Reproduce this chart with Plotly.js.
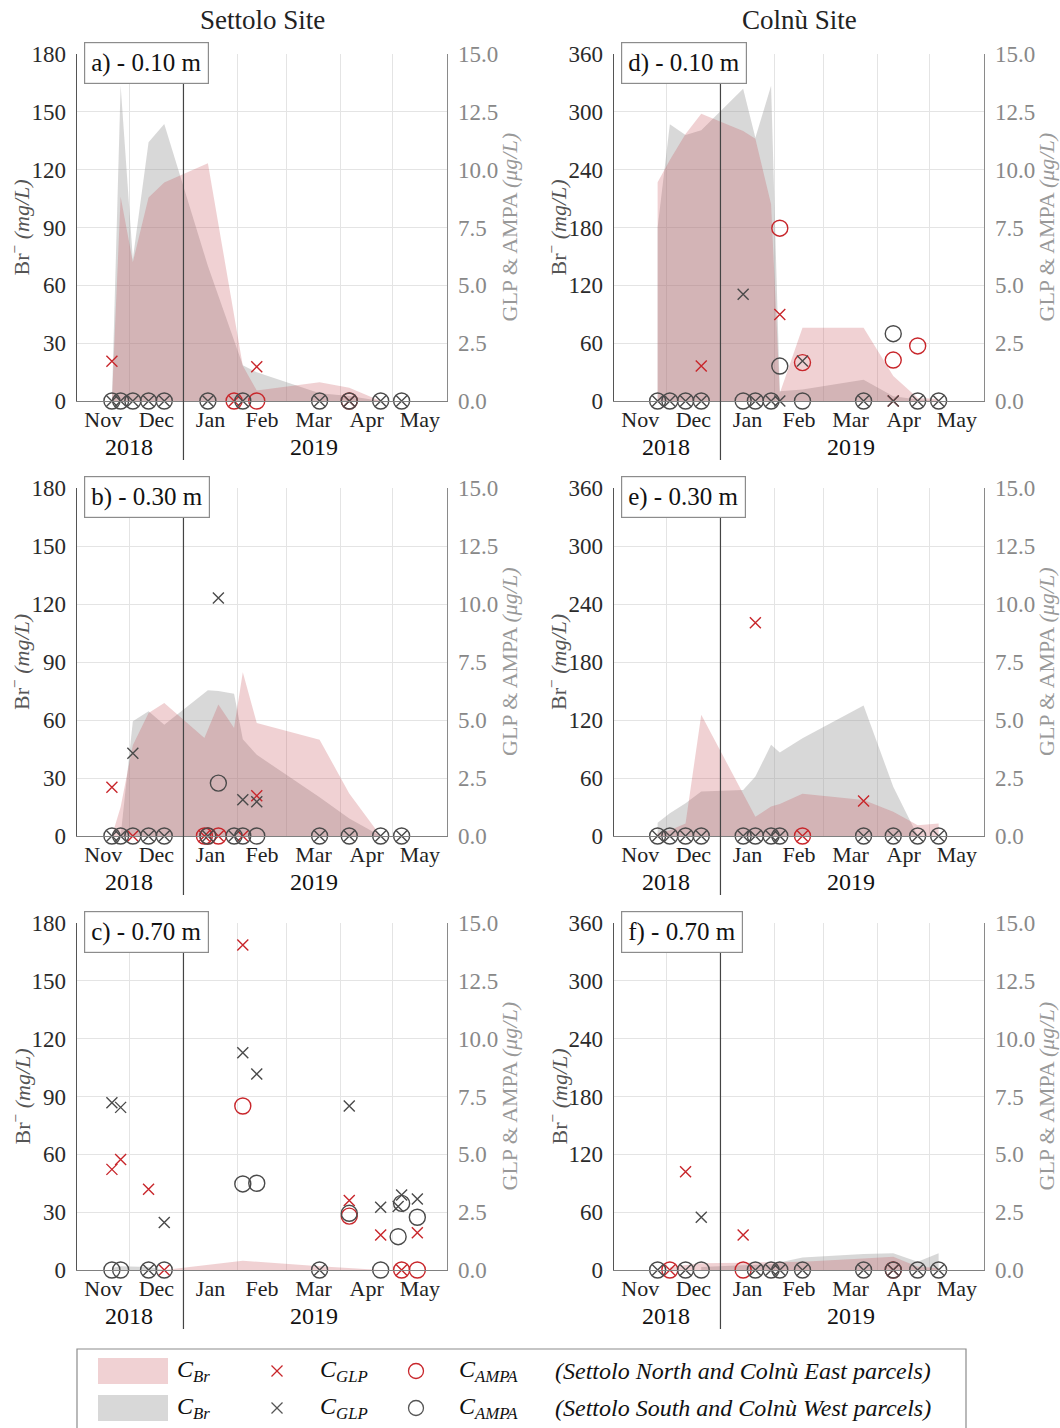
<!DOCTYPE html>
<html><head><meta charset="utf-8">
<script src="https://cdn.plot.ly/plotly-3.0.1.min.js"></script>
<style>html,body{margin:0;padding:0;background:#fff}</style>
</head><body>
<div id="chart" style="width:1060px;height:1428px"></div>
<script>
// ---------------- DATA ----------------
const siteTitles = ['Settolo Site', 'Colnù Site'];
const panelLabels = ['a) - 0.10 m','b) - 0.30 m','c) - 0.70 m','d) - 0.10 m','e) - 0.30 m','f) - 0.70 m'];
const yearLabels = ['2018', '2019'];
const yearCenters = ['2018-12-01', '2019-03-17'];
const xRange = ['2018-11-01', '2019-06-01'];
const brRangeSettolo = [0, 180];
const brRangeColnu = [0, 360];
const chemRange = [0, 15];

const settoloDates = ['2018-11-21','2018-11-26','2018-12-03','2018-12-12','2018-12-21','2019-01-13','2019-01-15','2019-01-21','2019-01-30','2019-02-04','2019-02-12','2019-03-20','2019-04-06','2019-04-24','2019-05-04','2019-05-06','2019-05-15'];
const colnuDates = ['2018-11-26','2018-12-03','2018-12-12','2018-12-21','2019-01-14','2019-01-21','2019-01-30','2019-02-04','2019-02-17','2019-03-24','2019-04-10','2019-04-24','2019-05-06'];

// Panel a: Settolo 0.10 m (Br mg/L; GLP/AMPA ug/L)
const brN_a  = [0,106,72,105.6,113.4,null,123.3,null,null,18.3,5.4,9.7,6.9,0,null,null,null];
const brS_a  = [0,163.6,73.7,134.2,143.7,null,70,null,null,18.5,14.9,4,2.6,0,null,null,null];
const glpN_a = [1.72,null,null,null,null,null,null,null,0,null,1.48,null,0,null,null,null,null];
const ampaN_a= [null,null,null,null,null,null,null,null,0,null,0,null,0,null,null,null,null];
const glpS_a = [0,0,0,0,0,null,0,null,null,0,null,0,0,0,null,0,null];
const ampaS_a= [0,0,0,0,0,null,0,null,null,0,null,0,0,0,null,0,null];

// Panel b: Settolo 0.30 m
const brN_b  = [0,15,47,63.6,68.8,50.7,null,68,55.8,84.7,58.4,49.8,22,0,null,null,null];
const brS_b  = [null,0,59.3,64.5,57.6,74,75.4,75,73.6,50,42,20,9,0,null,null,null];
const glpN_b = [2.1,null,0,null,null,0,null,0,null,0,1.73,null,null,null,null,null,null];
const ampaN_b= [null,null,null,null,null,0,0,0,null,null,null,null,null,null,null,null,null];
const glpS_b = [0,0,3.57,0,0,null,0,10.26,0,1.56,1.48,0,0,0,null,0,null];
const ampaS_b= [0,0,0,0,0,null,0,2.28,0,0,0,0,0,0,null,0,null];

// Panel c: Settolo 0.70 m
const brN_c  = [null,null,null,null,0,null,null,null,null,4.8,null,2,null,0,null,null,null];
const brS_c  = [1,2,null,1.5,0,null,null,null,null,null,null,null,null,null,null,null,null];
const glpN_c = [4.35,4.78,null,3.49,0,null,null,null,null,14.05,null,null,3.0,1.51,null,0,1.61];
const ampaN_c= [null,null,null,null,null,null,null,null,null,7.09,null,null,2.33,null,null,0,0];
const glpS_c = [7.23,7.03,null,0,2.05,null,null,null,null,9.39,8.47,0,7.09,2.71,2.74,3.24,3.07];
const ampaS_c= [0,0,null,0,0,null,null,null,null,3.72,3.75,0,2.45,0,1.44,2.88,2.28];

// Panel d: Colnù 0.10 m
const brN_d  = [227,250,277,298,280,272,204,8,76,76,26,3,2];
const brS_d  = [180,287,276,281,324,273,327,10,12,22,5,1.5,0];
const glpN_d = [null,null,null,1.51,null,null,null,3.74,null,null,0,null,null];
const ampaN_d= [null,null,null,null,null,null,null,7.47,1.66,null,1.77,2.38,null];
const glpS_d = [0,0,0,0,4.61,0,0,0,1.73,0,0,0,0];
const ampaS_d= [0,0,0,0,0,0,0,1.51,0,0,2.91,0,0];

// Panel e: Colnù 0.30 m
const brN_e  = [3,6,13,125.5,43.6,20,30.4,33,43.6,37.3,25,11,13];
const brS_e  = [13.8,23.5,34,46,47.7,61.5,94.4,86.4,101,134.9,51,0,null];
const glpN_e = [null,null,null,null,null,9.19,null,null,0,1.51,null,null,null];
const ampaN_e= [null,null,null,null,null,null,null,null,0,null,null,null,null];
const glpS_e = [0,0,0,0,0,0,0,0,null,0,0,0,0];
const ampaS_e= [0,0,0,0,0,0,0,0,null,0,0,0,0];

// Panel f: Colnù 0.70 m
const brN_f  = [null,3,null,7,7.6,null,null,null,8.6,12,13.8,3.5,2];
const brS_f  = [null,null,null,3,5,null,6,null,13,16.6,17.3,8.6,17.3];
const glpN_f = [null,0,4.25,null,1.51,null,null,null,null,null,0,null,null];
const ampaN_f= [null,0,null,null,0,null,null,null,null,null,0,null,null];
const glpS_f = [0,null,0,2.28,null,0,0,0,0,0,0,0,0];
const ampaS_f= [0,null,0,0,null,0,0,0,0,0,0,0,0];

const legendParcels = ['(Settolo North and Colnù East parcels)', '(Settolo South and Colnù West parcels)'];

// ---------------- STYLE / LAYOUT ----------------
const W = 1060, H = 1428;
const FONT = 'Liberation Serif, Times New Roman, serif';
const RED = '#c8262b', DARK = '#4a4a4a';
const PINK_FILL = 'rgba(196,70,80,0.25)', GRAY_FILL = 'rgba(150,150,150,0.37)';
const colPx = [[77, 447], [614, 984]];
const rowPx = [[54, 401], [488, 836], [923, 1270]];
const px = v => v / W, py = v => 1 - v / H;

const panels = [
  {col:0,row:0,dates:settoloDates,brN:brN_a,brS:brS_a,glpN:glpN_a,ampaN:ampaN_a,glpS:glpS_a,ampaS:ampaS_a,br:brRangeSettolo,label:panelLabels[0]},
  {col:0,row:1,dates:settoloDates,brN:brN_b,brS:brS_b,glpN:glpN_b,ampaN:ampaN_b,glpS:glpS_b,ampaS:ampaS_b,br:brRangeSettolo,label:panelLabels[1]},
  {col:0,row:2,dates:settoloDates,brN:brN_c,brS:brS_c,glpN:glpN_c,ampaN:ampaN_c,glpS:glpS_c,ampaS:ampaS_c,br:brRangeSettolo,label:panelLabels[2]},
  {col:1,row:0,dates:colnuDates,brN:brN_d,brS:brS_d,glpN:glpN_d,ampaN:ampaN_d,glpS:glpS_d,ampaS:ampaS_d,br:brRangeColnu,label:panelLabels[3]},
  {col:1,row:1,dates:colnuDates,brN:brN_e,brS:brS_e,glpN:glpN_e,ampaN:ampaN_e,glpS:glpS_e,ampaS:ampaS_e,br:brRangeColnu,label:panelLabels[4]},
  {col:1,row:2,dates:colnuDates,brN:brN_f,brS:brS_f,glpN:glpN_f,ampaN:ampaN_f,glpS:glpS_f,ampaS:ampaS_f,br:brRangeColnu,label:panelLabels[5]},
];

function pick(dates, vals) {
  const x = [], y = [];
  vals.forEach((v, i) => { if (v !== null) { x.push(dates[i]); y.push(v); } });
  return {x, y};
}
const axName = (p, n) => n === 1 ? p + 'axis' : p + 'axis' + n;
const axRef = (p, n) => n === 1 ? p : p + n;

const traces = [];
const layout = {
  width: W, height: H, margin: {l:0, r:0, t:0, b:0},
  paper_bgcolor: '#fff', plot_bgcolor: 'rgba(0,0,0,0)',
  showlegend: false, font: {family: FONT, color: '#222'},
  annotations: [], shapes: []
};

panels.forEach((p, i) => {
  const xn = i + 1, yl = 2 * i + 1, yr = 2 * i + 2;
  const xr = axRef('x', xn), ylr = axRef('y', yl), yrr = axRef('y', yr);
  const [cx0, cx1] = colPx[p.col];
  const [ry0, ry1] = rowPx[p.row];

  layout[axName('x', xn)] = {
    type: 'date', range: xRange, domain: [px(cx0), px(cx1)], anchor: ylr,
    dtick: 'M1', tick0: '2018-11-01', ticklabelmode: 'period', tickformat: '%b',
    showgrid: true, gridcolor: '#e4e4e4', gridwidth: 1,
    showline: true, linecolor: '#808080', linewidth: 1.4, ticks: '',
    zeroline: false, tickfont: {family: FONT, size: 22, color: '#222'}, ticklabelstandoff: -2, fixedrange: true
  };
  layout[axName('y', yl)] = {
    range: p.br, dtick: (p.br[1]) / 6, domain: [py(ry1), py(ry0)], anchor: xr,
    showgrid: true, gridcolor: '#e4e4e4', gridwidth: 1,
    showline: true, linecolor: '#555', linewidth: 1.4, ticks: '', zeroline: false,
    tickfont: {family: FONT, size: 23, color: '#2a2a2a'}, ticklabelstandoff: 5, fixedrange: true
  };
  layout[axName('y', yr)] = {
    range: chemRange, dtick: 2.5, tickformat: '.1f', overlaying: ylr, side: 'right', anchor: xr,
    showgrid: false, showline: true, linecolor: '#8a8a8a', linewidth: 1.4, ticks: '', zeroline: false,
    tickfont: {family: FONT, size: 23, color: '#888'}, ticklabelstandoff: 5, fixedrange: true
  };

  // Br areas
  const s = pick(p.dates, p.brS), n = pick(p.dates, p.brN);
  traces.push({type:'scatter', mode:'none', fill:'tozeroy', fillcolor: GRAY_FILL, x:s.x, y:s.y, xaxis:xr, yaxis:ylr, hoverinfo:'skip'});
  traces.push({type:'scatter', mode:'none', fill:'tozeroy', fillcolor: PINK_FILL, x:n.x, y:n.y, xaxis:xr, yaxis:ylr, hoverinfo:'skip'});

  const mk = (vals, sym, color, size) => {
    const d = pick(p.dates, vals);
    traces.push({type:'scatter', mode:'markers', x:d.x, y:d.y, xaxis:xr, yaxis:yrr, cliponaxis:false,
      marker:{symbol:sym, size:size, color:color, line:{color:color, width:1.4}}, hoverinfo:'x+y'});
  };
  mk(p.ampaN, 'circle-open', RED, 16);
  mk(p.glpN, 'x-thin-open', RED, 11);
  mk(p.ampaS, 'circle-open', DARK, 16);
  mk(p.glpS, 'x-thin-open', DARK, 11);

  // Jan 1 separator line
  layout.shapes.push({type:'line', xref:xr, yref:'paper', x0:'2019-01-01', x1:'2019-01-01',
    y0: py(ry1 + 59), y1: py(ry0), line:{color:'#444', width:1.2}, layer:'above'});

  // panel label box
  layout.annotations.push({xref:'paper', yref:'paper', x: px(cx0 + 7), y: py(ry0 - 12), xanchor:'left', yanchor:'top',
    text: p.label, showarrow:false, bgcolor:'#fff', bordercolor:'#8c8c8c', borderwidth:1.2, borderpad:6,
    font:{family:FONT, size:25, color:'#111'}});

  // year labels
  yearLabels.forEach((yl_, k) => {
    layout.annotations.push({xref:xr, yref:'paper', x: yearCenters[k], y: py(ry1 + 46), yanchor:'middle', xanchor:'center',
      text: yl_, showarrow:false, font:{family:FONT, size:24, color:'#111'}});
  });

  // axis titles
  layout.annotations.push({xref:'paper', yref:'paper', x: px(cx0 - 57), y: py((ry0 + ry1) / 2), textangle:-90,
    xanchor:'center', yanchor:'middle',
    text:'Br<sup>−</sup> <i>(mg/L)</i>', showarrow:false, font:{family:FONT, size:22, color:'#555'}});
  layout.annotations.push({xref:'paper', yref:'paper', x: px(cx1 + 62), y: py((ry0 + ry1) / 2), textangle:-90,
    xanchor:'center', yanchor:'middle',
    text:'GLP &amp; AMPA <i>(μg/L)</i>', showarrow:false, font:{family:FONT, size:22, color:'#999'}});
});

// column titles
siteTitles.forEach((t, c) => {
  layout.annotations.push({xref:'paper', yref:'paper', x: px((colPx[c][0] + colPx[c][1]) / 2), y: py(20),
    xanchor:'center', yanchor:'middle',
    text: t, showarrow:false, font:{family:FONT, size:27, color:'#222'}});
});

// ------------- custom legend -------------
layout.shapes.push({type:'rect', xref:'paper', yref:'paper', x0:px(77), x1:px(966), y0:py(1349), y1:py(1445),
  line:{color:'#8c8c8c', width:1.2}, fillcolor:'#fff', layer:'below'});
const legRows = [{y:1371, fill:PINK_FILL, col:RED}, {y:1408, fill:GRAY_FILL, col:'#555'}];
legRows.forEach((r, k) => {
  layout.shapes.push({type:'rect', xref:'paper', yref:'paper', x0:px(98), x1:px(168), y0:py(r.y + 13), y1:py(r.y - 13),
    line:{width:0}, fillcolor: r.fill});
  const cx = 277, d = 5.5;
  layout.shapes.push({type:'line', xref:'paper', yref:'paper', x0:px(cx - d), x1:px(cx + d), y0:py(r.y - d), y1:py(r.y + d), line:{color:r.col, width:1.3}});
  layout.shapes.push({type:'line', xref:'paper', yref:'paper', x0:px(cx - d), x1:px(cx + d), y0:py(r.y + d), y1:py(r.y - d), line:{color:r.col, width:1.3}});
  const ox = 416, rr = 7.5;
  layout.shapes.push({type:'circle', xref:'paper', yref:'paper', x0:px(ox - rr), x1:px(ox + rr), y0:py(r.y + rr), y1:py(r.y - rr), line:{color:r.col, width:1.3}});
  const tx = [[175, '<i>C</i><sub><i>Br</i></sub>'], [318, '<i>C</i><sub><i>GLP</i></sub>'], [457, '<i>C</i><sub><i>AMPA</i></sub>'], [553, '<i>' + legendParcels[k] + '</i>']];
  tx.forEach(([x, t]) => {
    layout.annotations.push({xref:'paper', yref:'paper', x:px(x), y:py(r.y), xanchor:'left', yanchor:'middle',
      text:t, showarrow:false, font:{family:FONT, size:24, color:'#111'}});
  });
});

Plotly.newPlot('chart', traces, layout, {staticPlot: true});
</script>
</body></html>
